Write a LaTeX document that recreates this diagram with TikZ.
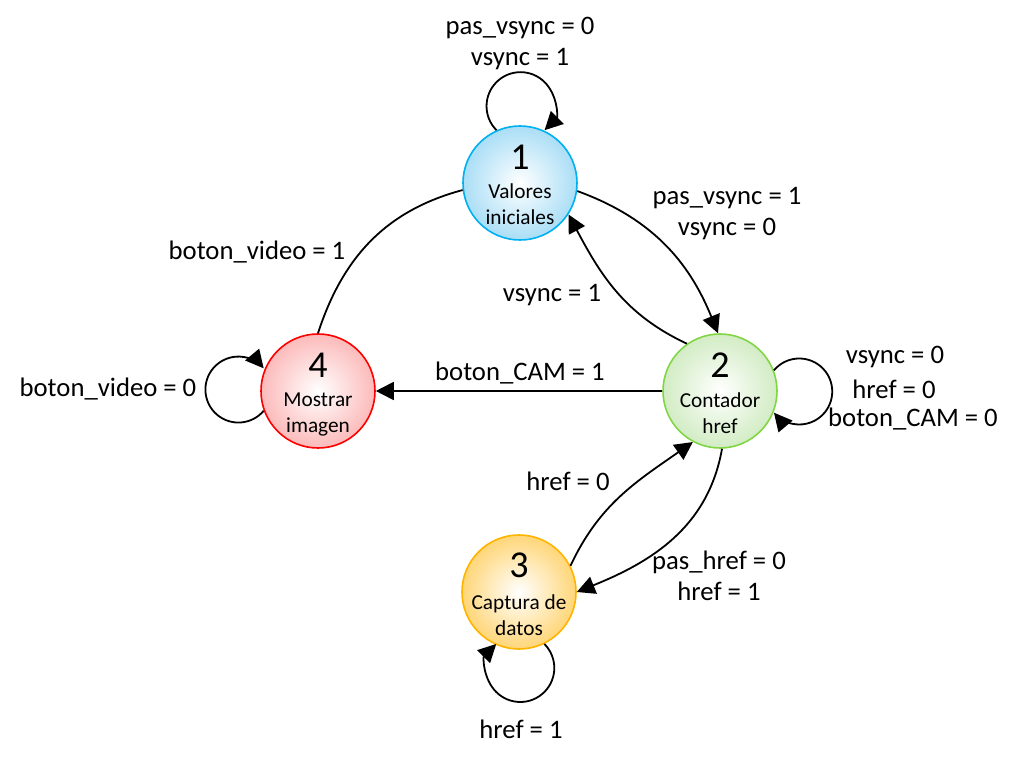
\documentclass[tikz,border=0pt]{standalone}
\usepackage{fontspec}
\setmainfont{Carlito}
\usetikzlibrary{arrows.meta}
\definecolor{b1}{RGB}{0,176,240}
\definecolor{f1}{RGB}{170,222,246}
\definecolor{b2}{RGB}{130,214,70}
\definecolor{f2}{RGB}{210,236,196}
\definecolor{b3}{RGB}{255,180,0}
\definecolor{f3}{RGB}{255,214,120}
\definecolor{b4}{RGB}{255,0,0}
\definecolor{f4}{RGB}{252,186,186}
\tikzset{
  state/.style={circle, minimum size=114pt, inner sep=0pt, line width=1.6pt, inner color=white},
  num/.style={font=\fontsize{38}{38}\selectfont, inner sep=0pt},
  stext/.style={font=\fontsize{21.3}{26}\selectfont, align=center, inner sep=0pt},
  lbl/.style={font=\fontsize{26.7}{31}\selectfont, align=center, inner sep=0pt},
  edge/.style={line width=1.8pt, -{Triangle[length=18pt,width=18pt]}},
  plain/.style={line width=1.8pt},
}
\begin{document}
\begin{tikzpicture}[x=1pt,y=1pt]
\useasboundingbox (0,0) rectangle (1017,761);
% states
\node[state, draw=b1, outer color=f1] (s1) at (520,578) {};
\node[state, draw=b2, outer color=f2] (s2) at (720,370) {};
\node[state, draw=b3, outer color=f3] (s3) at (519,169) {};
\node[state, draw=b4, outer color=f4] (s4) at (318,370) {};
\node[num] (n1) at (520,604) {1};
\node[stext] (t1) at (520,557) {Valores\\iniciales};
\node[num] (n2) at (720,396) {2};
\node[stext] (t2) at (720,348) {Contador\\href};
\node[num] (n3) at (519,196) {3};
\node[stext] (t3) at (519,146) {Captura de\\datos};
\node[num] (n4) at (318,396) {4};
\node[stext] (t4) at (318,347) {Mostrar\\imagen};
% connectors
\draw[edge] (s1.-8) to[out=-20,in=112] (s2.92);
\draw[edge] (s2.125) to[out=155,in=-62] (s1.-33);
\draw[plain] (s4.90) to[out=72,in=195] (s1.187);
\draw[edge] (s2.180) -- (s4.0);
\draw[edge] (s3.27) to[out=65,in=215] (s2.-118);
\draw[edge] (s2.-88) to[out=-100,in=22] (s3.0);
% self loops
\draw[edge] (s1.114) arc[start angle=225, end angle=-45, radius=34];
\draw[edge] (s2.21) arc[start angle=140, end angle=-140, radius=33];
\draw[edge] (s3.-64) arc[start angle=45, end angle=-225, radius=34];
\draw[edge] (s4.-160) arc[start angle=-40, end angle=-320, radius=33];
% labels
\node[lbl] (l1) at (520,718) {pas\_vsync = 0\\vsync = 1};
\node[lbl] (l12) at (727,547) {pas\_vsync = 1\\vsync = 0};
\node[lbl] (l21) at (552,466) {vsync = 1};
\node[lbl] (l41) at (257,509) {boton\_video = 1};
\node[lbl] (l24) at (520,388) {boton\_CAM = 1};
\node[lbl] (l4) at (108,372) {boton\_video = 0};
\node[lbl] (l2a) at (895,404) {vsync = 0};
\node[lbl] (l2b) at (894,372) {href = 0};
\node[lbl] (l2c) at (913,342) {boton\_CAM = 0};
\node[lbl] (l32) at (568,280) {href = 0};
\node[lbl] (l23) at (719,185) {pas\_href = 0\\href = 1};
\node[lbl] (l3) at (521,32) {href = 1};
\end{tikzpicture}
\end{document}
